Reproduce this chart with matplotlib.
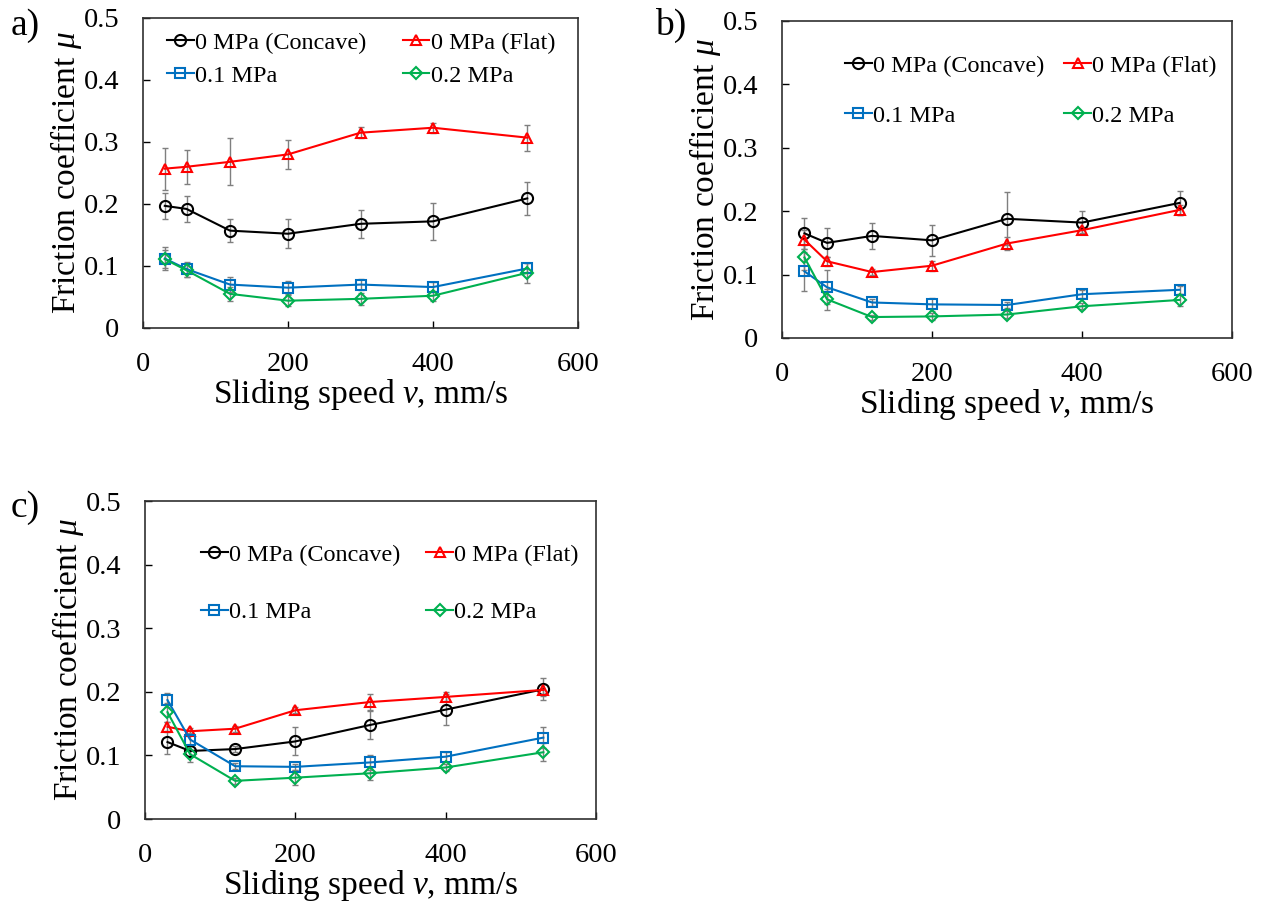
import numpy as np
import matplotlib
matplotlib.use("Agg")
import matplotlib.pyplot as plt

plt.rcParams['font.family'] = ['Liberation Serif', 'DejaVu Serif']
plt.rcParams['mathtext.fontset'] = 'custom'
plt.rcParams['mathtext.rm'] = 'Liberation Serif'
plt.rcParams['mathtext.it'] = 'Liberation Serif:italic'

# sliding speeds (mm/s)
speed = [30, 60, 120, 200, 300, 400, 530]

labels = ['0 MPa (Concave)', '0 MPa (Flat)', '0.1 MPa', '0.2 MPa']

# panel a
a_concave = [0.197, 0.192, 0.157, 0.152, 0.168, 0.172, 0.209]
a_concave_err = [0.021, 0.021, 0.019, 0.023, 0.023, 0.030, 0.026]
a_flat = [0.257, 0.260, 0.268, 0.280, 0.315, 0.323, 0.307]
a_flat_err = [0.034, 0.027, 0.038, 0.024, 0.009, 0.008, 0.021]
a_01 = [0.112, 0.095, 0.070, 0.065, 0.070, 0.066, 0.096]
a_01_err = [0.018, 0.012, 0.012, 0.010, 0.009, 0.008, 0.008]
a_02 = [0.111, 0.093, 0.055, 0.044, 0.047, 0.052, 0.089]
a_02_err = [0.015, 0.010, 0.011, 0.009, 0.010, 0.008, 0.016]

# panel b
b_concave = [0.165, 0.150, 0.161, 0.154, 0.188, 0.182, 0.213]
b_concave_err = [0.025, 0.023, 0.020, 0.024, 0.042, 0.018, 0.019]
b_flat = [0.155, 0.121, 0.104, 0.114, 0.149, 0.170, 0.202]
b_flat_err = [0.015, 0.007, 0.005, 0.008, 0.010, 0.005, 0.008]
b_01 = [0.105, 0.080, 0.056, 0.053, 0.052, 0.069, 0.076]
b_01_err = [0.031, 0.027, 0.005, 0.010, 0.005, 0.006, 0.006]
b_02 = [0.127, 0.061, 0.033, 0.034, 0.037, 0.050, 0.060]
b_02_err = [0.020, 0.017, 0.004, 0.005, 0.005, 0.005, 0.010]

# panel c
c_concave = [0.121, 0.107, 0.110, 0.122, 0.148, 0.172, 0.204]
c_concave_err = [0.018, 0.010, 0.005, 0.022, 0.022, 0.024, 0.017]
c_flat = [0.145, 0.138, 0.142, 0.171, 0.184, 0.192, 0.203]
c_flat_err = [0.008, 0.005, 0.005, 0.005, 0.012, 0.007, 0.010]
c_01 = [0.187, 0.125, 0.083, 0.082, 0.089, 0.098, 0.128]
c_01_err = [0.011, 0.010, 0.005, 0.005, 0.012, 0.008, 0.017]
c_02 = [0.168, 0.102, 0.060, 0.065, 0.072, 0.081, 0.105]
c_02_err = [0.015, 0.013, 0.005, 0.012, 0.010, 0.006, 0.014]

colors = ['black', '#FF0000', '#0070C0', '#00B050']
markers = ['o', '^', 's', 'D']
msizes = [8, 7.5, 7.5, 6.5]

fig = plt.figure(figsize=(12.67, 9.09), dpi=100)

panels = [
    ('a)', [0.1129, 0.6392, 0.3433, 0.3410],
     [(a_concave, a_concave_err), (a_flat, a_flat_err), (a_01, a_01_err), (a_02, a_02_err)],
     (0.055, 0.956), 0.45, 1.5, (0.008, 0.972)),
    ('b)', [0.6172, 0.6282, 0.3552, 0.3487],
     [(b_concave, b_concave_err), (b_flat, b_flat_err), (b_01, b_01_err), (b_02, b_02_err)],
     (0.14, 0.893), 1.15, 0.83, (0.517, 0.972)),
    ('c)', [0.1144, 0.0990, 0.3560, 0.3498],
     [(c_concave, c_concave_err), (c_flat, c_flat_err), (c_01, c_01_err), (c_02, c_02_err)],
     (0.124, 0.865), 1.45, 1.08, (0.008, 0.442)),
]

for tag, rect, series, leg_xy, lspace, cspace, tag_xy in panels:
    ax = fig.add_axes(rect)
    handles = []
    for (vals, errs), col, mk, ms in zip(series, colors, markers, msizes):
        ax.errorbar(speed, vals, yerr=errs, fmt='none', ecolor='#7F7F7F',
                    elinewidth=1.0, capsize=2.5, capthick=1.0, zorder=2)
        h, = ax.plot(speed, vals, color=col, marker=mk, ms=ms, mfc='none',
                     mec=col, mew=1.5, lw=1.5, zorder=3)
        handles.append(h)

    ax.set_xlim(0, 600)
    ax.set_ylim(0, 0.5)
    ax.set_xticks([0, 200, 400, 600])
    ax.set_xticklabels(['0', '200', '400', '600'])
    ax.set_yticks([0, 0.1, 0.2, 0.3, 0.4, 0.5])
    ax.set_yticklabels(['0', '0.1', '0.2', '0.3', '0.4', '0.5'])
    ax.tick_params(direction='in', length=5, width=1.0, labelsize=20.5, pad=17,
                   top=False, right=False)
    for sp in ax.spines.values():
        sp.set_linewidth(1.2)
        sp.set_color('#303030')

    ax.set_xlabel(r'Sliding speed $\mathit{v}$, mm/s', fontsize=24, labelpad=0)
    ax.set_ylabel(r'Friction coefficient $\mathit{\mu}$', fontsize=24, labelpad=0)

    order = [0, 2, 1, 3]
    ax.legend([handles[i] for i in order], [labels[i] for i in order], ncol=2,
              loc='upper left', bbox_to_anchor=leg_xy, frameon=False,
              fontsize=17.5, borderpad=0, borderaxespad=0, handlelength=1.1,
              handletextpad=0.05, labelspacing=lspace, columnspacing=cspace)

    fig.text(tag_xy[0], tag_xy[1], tag, fontsize=27, ha='left', va='center')

fig.savefig('out.png', dpi=100)
